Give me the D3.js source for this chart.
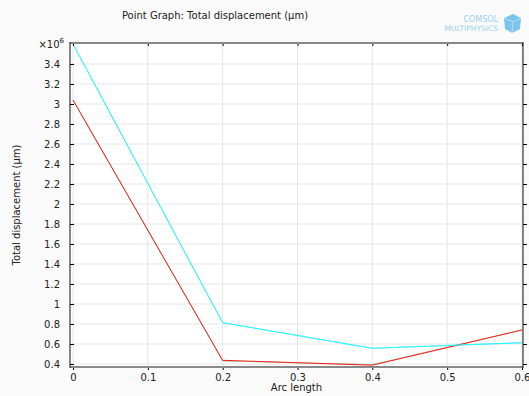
<!DOCTYPE html>
<html>
<head>
<meta charset="utf-8">
<script src="https://cdn.jsdelivr.net/npm/d3@7"></script>
<style>
  body { margin: 0; background: #fafafa; }
  text { font-family: "DejaVu Sans", sans-serif; fill: #222; }
</style>
</head>
<body>
<div id="chart"></div>
<script>
// arc length positions
const arcLength = [0, 0.2, 0.4, 0.6];
// total displacement, in units of 1e6 µm
const blueSeries = [3.60, 0.813, 0.557, 0.613];
const greenSeries = [3.04, 0.43, 0.395, 0.74];
const redSeries = [3.04, 0.437, 0.388, 0.74];
const cyanSeries = [3.60, 0.813, 0.557, 0.613];
const xTicks = [0, 0.1, 0.2, 0.3, 0.4, 0.5, 0.6];
const yTicks = [0.4, 0.6, 0.8, 1, 1.2, 1.4, 1.6, 1.8, 2, 2.2, 2.4, 2.6, 2.8, 3, 3.2, 3.4];

const width = 529;
const height = 396;
const plot = { left: 70, right: 523, top: 43, bottom: 367 };

const svg = d3.select('#chart').append('svg')
    .attr('width', width)
    .attr('height', height);

svg.append('rect')
    .attr('width', width).attr('height', height)
    .attr('fill', '#fafafa');

svg.append('rect')
    .attr('x', plot.left).attr('y', plot.top)
    .attr('width', plot.right - plot.left).attr('height', plot.bottom - plot.top)
    .attr('fill', '#ffffff');

const scaleX = d3.scaleLinear().domain([0, 0.6]).range([73, 522]);
const scaleY = d3.scaleLinear().domain([0.37, 3.61]).range([plot.bottom, plot.top]);

// grid
svg.append('g')
    .selectAll('line.vx')
    .data(xTicks)
    .enter().append('line')
        .attr('x1', d => scaleX(d)).attr('x2', d => scaleX(d))
        .attr('y1', plot.top).attr('y2', plot.bottom)
        .attr('stroke', '#e6e6e6');

svg.append('g')
    .selectAll('line.hy')
    .data(yTicks)
    .enter().append('line')
        .attr('x1', plot.left).attr('x2', plot.right)
        .attr('y1', d => scaleY(d)).attr('y2', d => scaleY(d))
        .attr('stroke', '#e6e6e6');

// series
const line = d3.line()
    .x((d, i) => scaleX(arcLength[i]))
    .y(d => scaleY(d));

const series = [
    { values: blueSeries, color: '#3a8cff', w: 0.4 },
    { values: greenSeries, color: '#3aa83a', w: 0.5 },
    { values: redSeries, color: '#ff1a1a', w: 1 },
    { values: cyanSeries, color: '#1affff', w: 1 }
];

svg.append('g')
    .selectAll('path')
    .data(series)
    .enter().append('path')
        .attr('d', d => line(d.values))
        .attr('fill', 'none')
        .attr('stroke', d => d.color)
        .attr('stroke-width', d => d.w);

// axes frame
const bottomAxis = svg.append('g')
    .attr('transform', 'translate(0,' + plot.bottom + ')')
    .call(d3.axisBottom(scaleX).tickValues(xTicks).tickSize(3).tickPadding(4).tickFormat(d3.format('')));
bottomAxis.select('.domain').remove();
bottomAxis.selectAll('text').attr('font-size', 10).attr('font-family', 'DejaVu Sans').attr('fill', '#222');

const topAxis = svg.append('g')
    .attr('transform', 'translate(0,' + plot.top + ')')
    .call(d3.axisBottom(scaleX).tickValues(xTicks).tickSize(3).tickFormat(''));
topAxis.select('.domain').remove();

const leftAxis = svg.append('g')
    .attr('transform', 'translate(' + plot.left + ',0)')
    .call(d3.axisLeft(scaleY).tickValues(yTicks).tickSizeInner(-4).tickSizeOuter(0).tickPadding(10).tickFormat(d3.format('')));
leftAxis.select('.domain').remove();
leftAxis.selectAll('text').attr('font-size', 10).attr('font-family', 'DejaVu Sans').attr('fill', '#222');

const rightAxis = svg.append('g')
    .attr('transform', 'translate(' + plot.right + ',0)')
    .call(d3.axisRight(scaleY).tickValues(yTicks).tickSize(4).tickFormat(''));
rightAxis.select('.domain').remove();

svg.append('line')
    .attr('x1', plot.left).attr('x2', plot.right)
    .attr('y1', plot.top).attr('y2', plot.top)
    .attr('stroke', '#888').attr('stroke-width', 2);
svg.append('line')
    .attr('x1', plot.left).attr('x2', plot.right)
    .attr('y1', plot.bottom).attr('y2', plot.bottom)
    .attr('stroke', '#888').attr('stroke-width', 2);
svg.append('line')
    .attr('x1', plot.left).attr('x2', plot.left)
    .attr('y1', plot.top - 1).attr('y2', plot.bottom + 1)
    .attr('stroke', '#111');
svg.append('line')
    .attr('x1', plot.right).attr('x2', plot.right)
    .attr('y1', plot.top - 1).attr('y2', plot.bottom + 1)
    .attr('stroke', '#111');

// exponent label
const expo = svg.append('text')
    .attr('x', 64).attr('y', 48)
    .attr('text-anchor', 'end')
    .attr('font-size', 10);
expo.append('tspan').text('×10');
expo.append('tspan').attr('dy', -5).attr('font-size', 7).text('6');

// titles
svg.append('text')
    .attr('x', 215).attr('y', 19)
    .attr('text-anchor', 'middle')
    .attr('font-size', 10)
    .text('Point Graph: Total displacement (µm)');

svg.append('text')
    .attr('x', (plot.left + plot.right) / 2).attr('y', 391)
    .attr('text-anchor', 'middle')
    .attr('font-size', 10)
    .text('Arc length');

svg.append('text')
    .attr('transform', 'translate(20,' + (plot.top + plot.bottom) / 2 + ') rotate(-90)')
    .attr('text-anchor', 'middle')
    .attr('font-size', 10)
    .text('Total displacement (µm)');

// logo
svg.append('text')
    .attr('x', 498).attr('y', 22)
    .attr('text-anchor', 'end')
    .attr('font-size', 8)
    .style('fill', '#9fd0ee')
    .text('COMSOL');
svg.append('text')
    .attr('x', 498).attr('y', 31)
    .attr('text-anchor', 'end')
    .attr('font-size', 7.5)
    .style('fill', '#9fd0ee')
    .text('MULTIPHYSICS');
svg.append('path')
    .attr('d', 'M504,18 L513,14 L521,18 L520,29 L512,33 L505,29 Z')
    .attr('fill', '#7cc4ec');
svg.append('path')
    .attr('d', 'M504,18 L513,22 L521,18 M513,22 L512,33')
    .attr('fill', 'none')
    .attr('stroke', '#b9e0f5').attr('stroke-width', 1);
</script>
</body>
</html>
